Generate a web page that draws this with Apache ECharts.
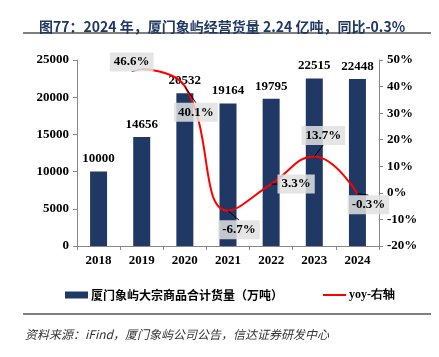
<!DOCTYPE html>
<html><head><meta charset="utf-8">
<script src="https://cdn.jsdelivr.net/npm/echarts@6/dist/echarts.min.js"></script>
<style>html,body{margin:0;padding:0;background:#fff}#c{width:439px;height:357px}</style>
</head><body><div id="c"></div>
<script>
const categories = ['2018','2019','2020','2021','2022','2023','2024'];
const volume = [10000, 14656, 20532, 19164, 19795, 22515, 22448];
const yoy = [null, 46.6, 40.1, -6.7, 3.3, 13.7, -0.3];
const leftTicks = [0, 25000, 5000];
const rightTicks = [-20, 50, 10];
const barName = '厦门象屿大宗商品合计货量（万吨）';
const lineName = 'yoy-右轴';
// label offsets (presentation)
const labelShift = [null, [-10,-7], [11,26], [11,19], [25,0], [9,-21], [11,11]];

const chart = echarts.init(document.getElementById('c'));
const serif = '"Liberation Serif","Times New Roman",serif';
const axisLabel = {color:'#000', fontFamily: serif, fontWeight:'bold', fontSize:13};
chart.setOption({
  animation:false,
  title:{text:'图77：2024 年，厦门象屿经营货量 2.24 亿吨，同比-0.3%', left:34, top:15,
    textStyle:{color:'#1f3864', fontSize:14, fontWeight:'bold', fontFamily:'"Noto Sans CJK SC",sans-serif'}},
  graphic:[
    {type:'line', shape:{x1:23,y1:33,x2:431,y2:33}, style:{stroke:'#555', lineWidth:1.5}},
    {type:'line', shape:{x1:23,y1:314,x2:431,y2:314}, style:{stroke:'#555', lineWidth:1.5}},
    {type:'text', left:25, top:328, style:{text:'资料来源：iFind，厦门象屿公司公告，信达证券研发中心', fill:'#333',
      font:'italic 12px "Noto Sans CJK SC",sans-serif'}}
  ],
  grid:{left:77, right:60, top:60, bottom:111},
  legend:[
    {data:[{name:barName, icon:'rect'}], left:60, top:284, itemWidth:23, itemHeight:7, itemGap:4,
      textStyle:{fontSize:12, color:'#000', fontFamily:'"Noto Sans CJK SC",serif', fontWeight:'bold', padding:[0,0,0,-2]}},
    {data:[{name:lineName, icon:'rect', itemStyle:{color:'#ff0000'}}], left:318, top:284, itemWidth:23, itemHeight:2,
      textStyle:{fontSize:12, color:'#000', fontFamily:serif, fontWeight:'bold', padding:[0,0,0,-2]}}
  ],
  xAxis:{type:'category', data:categories, axisLine:{lineStyle:{color:'#888'}},
    axisTick:{show:true, lineStyle:{color:'#888'}, length:4}, axisLabel:Object.assign({margin:8}, axisLabel)},
  yAxis:[
    {type:'value', min:leftTicks[0], max:leftTicks[1], interval:leftTicks[2], splitLine:{show:false},
      axisLine:{show:true, lineStyle:{color:'#888'}}, axisTick:{show:true, length:4, lineStyle:{color:'#888'}},
      axisLabel:Object.assign({formatter:v=>String(v)}, axisLabel)},
    {type:'value', min:rightTicks[0], max:rightTicks[1], interval:rightTicks[2], splitLine:{show:false},
      axisLine:{show:true, lineStyle:{color:'#888'}}, axisTick:{show:true, length:4, lineStyle:{color:'#888'}},
      axisLabel:Object.assign({formatter:'{value}%'}, axisLabel)}
  ],
  series:[
    {name:barName, type:'bar', data:volume, barWidth:17, itemStyle:{color:'#203864'},
      label:{show:true, position:'top', distance:6, color:'#000', fontFamily:serif, fontWeight:'bold', fontSize:13}},
    {name:lineName, type:'line', yAxisIndex:1, data:yoy, smooth:0.45, showSymbol:true, symbol:'circle', symbolSize:0.5,
      lineStyle:{color:'#ff0000', width:2}, itemStyle:{color:'#ff0000'},
      label:{show:true, position:'inside', formatter:p=>(p.value==null?'':p.value.toFixed(1)+'%'), color:'#000', fontFamily:serif, fontWeight:'bold', fontSize:13,
        backgroundColor:'rgba(225,225,225,0.85)', padding:[3,4]},
      labelLine:{show:true, lineStyle:{color:'#000', width:1}},
      labelLayout:function(p){ const s = labelShift[p.dataIndex]; return s ? {dx:s[0], dy:s[1]} : {}; }
    }
  ]
});
</script></body></html>
